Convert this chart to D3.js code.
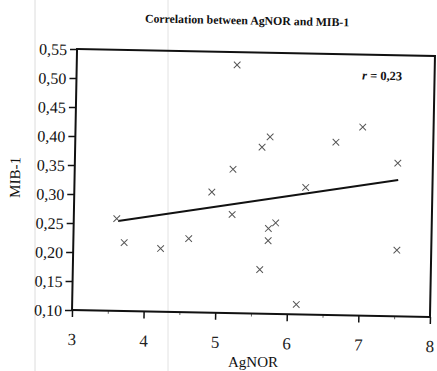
<!DOCTYPE html>
<html>
<head>
<meta charset="utf-8">
<script src="https://cdn.jsdelivr.net/npm/d3@7"></script>
<style>
  body { margin: 0; background: #fff; }
  svg { display: block; }
</style>
</head>
<body>
<div id="chart"></div>
<script>
// values
var agnor = [5.24, 5.21, 5.72, 5.61, 6.64, 7.01, 7.51, 4.92, 5.21, 3.60,
             3.71, 4.22, 4.61, 6.23, 5.72, 5.82, 5.72, 5.61, 6.13, 7.52];
var mib1  = [0.528, 0.348, 0.405, 0.387, 0.398, 0.425, 0.364, 0.308, 0.270, 0.259,
             0.218, 0.209, 0.227, 0.319, 0.247, 0.257, 0.226, 0.176, 0.117, 0.214];
var trendAgnor = [3.62, 7.52];
var trendMib1 = [0.255, 0.335];
var xTicks = [3, 4, 5, 6, 7, 8];
var xMinorTicks = [3.5, 4.5, 5.5, 6.5, 7.5];
var yTicks = [0.10, 0.15, 0.20, 0.25, 0.30, 0.35, 0.40, 0.45, 0.50, 0.55];
var titleText = "Correlation between AgNOR and MIB-1";
var xLabel = "AgNOR";
var yLabel = "MIB-1";
var rLabel = "r";
var rValue = " = 0,23";

var W = 437, H = 371;
var margin = {top: 52.5, left: 74.5},
    width = 358,
    height = 261;
var serif = "'Liberation Serif', 'Times New Roman', serif";

var locale = d3.formatLocale({decimal: ",", thousands: ".", grouping: [3], currency: ["", ""]});
var fmt = locale.format(".2f");

var x = d3.scaleLinear().domain([3, 8]).range([0, width]);
var y = d3.scaleLinear().domain([0.10, 0.55]).range([height, 0]);

var svg = d3.select("#chart").append("svg")
    .attr("width", W)
    .attr("height", H);

svg.append("rect").attr("width", W).attr("height", H).attr("fill", "#fff");

// faint scanner marks
svg.append("line").attr("x1", 35).attr("x2", 35).attr("y1", 0).attr("y2", H)
    .attr("stroke", "#dcdcdc").attr("stroke-width", 1);
svg.append("line").attr("x1", 168).attr("x2", 168).attr("y1", 0).attr("y2", H)
    .attr("stroke", "#e2e2e2").attr("stroke-width", 1);

// the scan is tilted by about a degree
var page = svg.append("g")
    .attr("transform", "rotate(1.1,253.5,183)");

var g = page.append("g")
    .attr("transform", "translate(" + margin.left + "," + margin.top + ")");

g.append("g")
    .attr("class", "axis axis--y")
    .call(d3.axisLeft(y).tickValues(yTicks).tickSize(7).tickPadding(3).tickFormat(fmt))
    .attr("font-family", serif)
    .attr("font-size", 16)
    .call(function(a) {
      a.select(".domain").remove();
      a.selectAll("line").attr("stroke", "#111").attr("stroke-width", 1.5);
      a.selectAll("text").attr("fill", "#111").attr("dy", "0.36em");
    });

g.append("g")
    .attr("class", "axis axis--x-minor")
    .attr("transform", "translate(0," + height + ")")
    .call(d3.axisBottom(x).tickValues(xMinorTicks).tickSize(3).tickFormat(function() { return ""; }))
    .call(function(a) {
      a.select(".domain").remove();
      a.selectAll("line").attr("stroke", "#666").attr("stroke-width", 1);
    });

g.append("g")
    .attr("class", "axis axis--x")
    .attr("transform", "translate(0," + height + ")")
    .call(d3.axisBottom(x).tickValues(xTicks).tickSize(7).tickPadding(16).tickFormat(d3.format("d")))
    .attr("font-family", serif)
    .attr("font-size", 17)
    .call(function(a) {
      a.select(".domain").remove();
      a.selectAll("line").attr("stroke", "#111").attr("stroke-width", 1.5);
      a.selectAll("text").attr("fill", "#222");
    });

// frame
g.append("rect")
    .attr("width", width)
    .attr("height", height)
    .attr("fill", "none")
    .attr("stroke", "#111")
    .attr("stroke-width", 2);

// regression line
var line = d3.line()
    .x(function(d) { return x(d[0]); })
    .y(function(d) { return y(d[1]); });

g.append("path")
    .datum(d3.zip(trendAgnor, trendMib1))
    .attr("d", line)
    .attr("fill", "none")
    .attr("stroke", "#111")
    .attr("stroke-width", 2);

// points
g.selectAll(".pt")
    .data(d3.zip(agnor, mib1))
  .enter().append("path")
    .attr("class", "pt")
    .attr("transform", function(d) { return "translate(" + x(d[0]) + "," + y(d[1]) + ")"; })
    .attr("d", d3.symbol(d3.symbolX, 30))
    .attr("fill", "none")
    .attr("stroke", "#555")
    .attr("stroke-width", 1);

// r annotation
var r = g.append("text")
    .attr("x", 380 - margin.left)
    .attr("y", 77.5 - margin.top)
    .attr("text-anchor", "middle")
    .attr("font-family", serif)
    .attr("font-weight", "bold")
    .attr("font-size", 12.5)
    .attr("fill", "#111");
r.append("tspan").attr("font-style", "italic").text(rLabel);
r.append("tspan").text(rValue);

// title
page.append("text")
    .attr("x", 244)
    .attr("y", 24.5)
    .attr("text-anchor", "middle")
    .attr("font-family", serif)
    .attr("font-weight", "bold")
    .attr("font-size", 11.8)
    .attr("fill", "#111")
    .text(titleText);

// axis titles
svg.append("text")
    .attr("x", 253)
    .attr("y", 367)
    .attr("text-anchor", "middle")
    .attr("font-family", serif)
    .attr("font-size", 15)
    .attr("fill", "#111")
    .text(xLabel);

page.append("text")
    .attr("transform", "translate(20,182) rotate(-90)")
    .attr("text-anchor", "middle")
    .attr("font-family", serif)
    .attr("font-size", 15)
    .attr("fill", "#111")
    .text(yLabel);
</script>
</body>
</html>
